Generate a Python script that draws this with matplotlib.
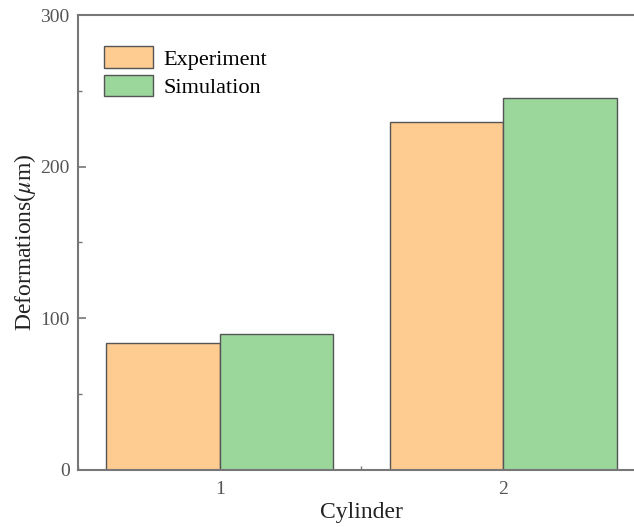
import numpy as np
import matplotlib.pyplot as plt
from matplotlib.ticker import MultipleLocator

# data
cylinders = [1, 2]
experiment = [83.8, 229.5]
simulation = [89.8, 245.3]
series_labels = ['Experiment', 'Simulation']

plt.rcParams['font.family'] = ['Liberation Serif', 'DejaVu Serif']
plt.rcParams['mathtext.fontset'] = 'stix'

fig = plt.figure(figsize=(6.34, 5.27), dpi=100)
ax = fig.add_axes([78 / 634, 57 / 527, 567 / 634, 455 / 527])

x = np.array(cylinders, dtype=float)
w = 0.4
edge = '#555555'
ax.bar(x - w / 2, experiment, width=w, color='#FECB91', edgecolor=edge,
       linewidth=1.0, label=series_labels[0])
ax.bar(x + w / 2, simulation, width=w, color='#9BD69A', edgecolor=edge,
       linewidth=1.0, label=series_labels[1])

ax.set_xlim(0.5, 2.5)
ax.set_ylim(0, 300)
ax.set_xticks(cylinders)
ax.xaxis.set_minor_locator(MultipleLocator(0.5))
ax.yaxis.set_major_locator(MultipleLocator(100))
ax.yaxis.set_minor_locator(MultipleLocator(50))

spine_col = '#777777'
for s in ax.spines.values():
    s.set_color(spine_col)
    s.set_linewidth(1.5)

ax.tick_params(which='both', direction='in', colors=spine_col,
               labelcolor='#555555', labelsize=14)
ax.tick_params(which='major', length=6, width=1.2)
ax.tick_params(which='minor', length=3, width=1.0)
ax.tick_params(axis='x', which='major', length=0, pad=8)
ax.tick_params(axis='y', pad=6)

ax.set_xlabel('Cylinder', fontsize=17, color='#222222', labelpad=3)
ax.set_ylabel(r'Deformations($\mu$m)', fontsize=17, color='#222222', labelpad=2)

ax.legend(loc='upper left', frameon=False, fontsize=16,
          handlelength=2.2, handleheight=1.1, handletextpad=0.5,
          labelspacing=0.25, bbox_to_anchor=(0.01, 0.975))

fig.savefig('out.png', dpi=100)
